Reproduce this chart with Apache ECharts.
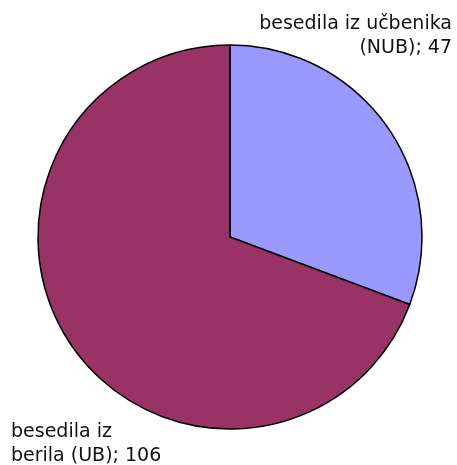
<!DOCTYPE html>
<html>
<head>
    <meta charset="utf-8" />
    <title>ECharts</title>
    <style>
        html, body { margin: 0; padding: 0; background: #fff; }
        #main { width: 457px; height: 465px; }
    </style>
    <script src="https://cdn.jsdelivr.net/npm/echarts@6/dist/echarts.min.js"></script>
</head>
<body>
    <div id="main"></div>
    <script type="text/javascript">
        // podatki
        var names = ['besedila iz učbenika\n(NUB)', 'besedila iz\nberila (UB)'];
        var values = [47, 106];
        var colors = ['#9999FF', '#993366'];

        // položaji oznak (x, y, poravnava)
        var labelPos = [
            { x: 452, y: 12, align: 'right' },
            { x: 11, y: 420, align: 'left' }
        ];

        var myChart = echarts.init(document.getElementById('main'));
        var option = {
            animation: false,
            series: [{
                type: 'pie',
                center: [230, 237],
                radius: 192,
                startAngle: 90,
                clockwise: true,
                data: names.map(function (n, i) {
                    return { name: n, value: values[i], itemStyle: { color: colors[i] } };
                }),
                itemStyle: { borderColor: '#000', borderWidth: 1.5 },
                label: { show: false },
                labelLine: { show: false }
            }],
            // oznake kot besedilo
            graphic: names.map(function (n, i) {
                var p = labelPos[i];
                return {
                    type: 'text',
                    x: p.x,
                    y: p.y,
                    style: {
                        text: n + '; ' + values[i],
                        align: p.align,
                        verticalAlign: 'top',
                        fontFamily: 'DejaVu Sans',
                        fontSize: 19,
                        lineHeight: 24,
                        fill: '#111'
                    }
                };
            })
        };
        myChart.setOption(option);
    </script>
</body>
</html>
